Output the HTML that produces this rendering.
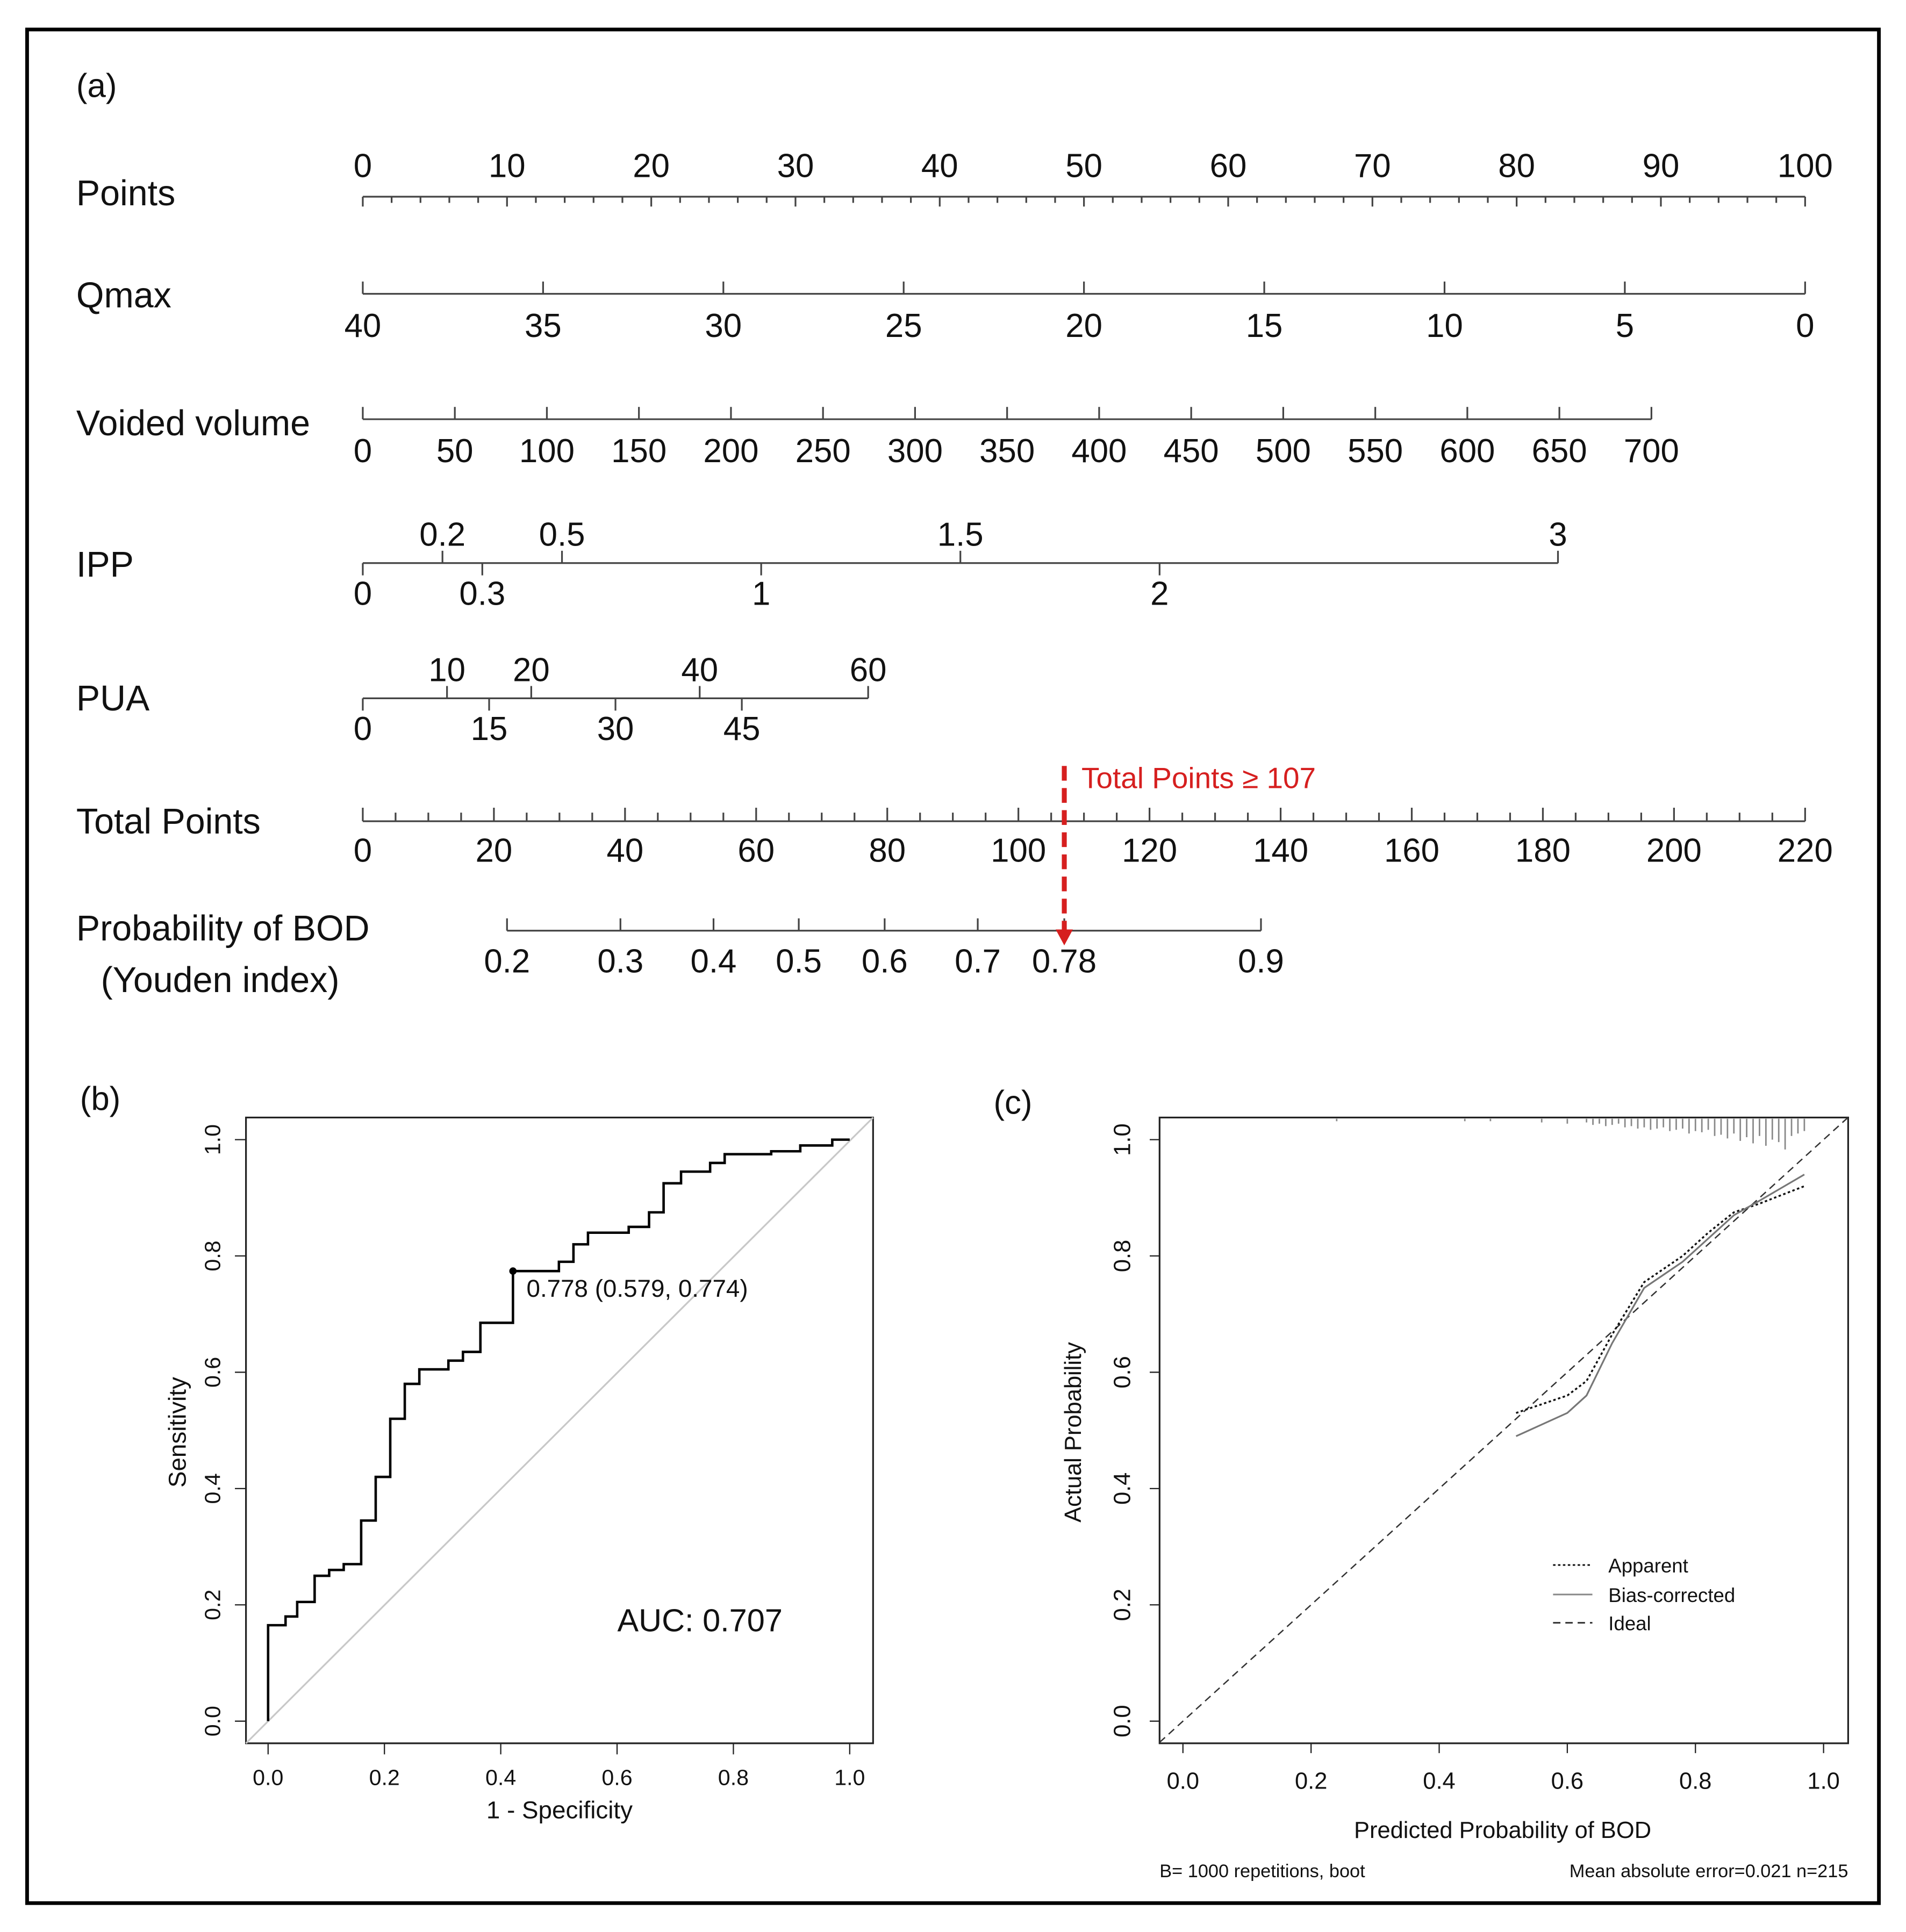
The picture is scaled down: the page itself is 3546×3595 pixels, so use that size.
<!DOCTYPE html>
<html><head><meta charset="utf-8"><style>
html,body{margin:0;padding:0;background:#fff}
svg{display:block}
text{font-family:"Liberation Sans",Arial,sans-serif;fill:#111}
</style></head><body>
<svg id="fig" width="3546" height="3595" viewBox="0 0 1550 1571.5" xmlns="http://www.w3.org/2000/svg">
<rect x="22" y="24" width="1506" height="1524" fill="none" stroke="#000" stroke-width="3"/>
<g id="nomo"></g>
<g id="roc"></g>
<g id="cal"></g>
</svg>
<script>
const NS="http://www.w3.org/2000/svg";
function mk(p,tag,a,txt){const e=document.createElementNS(NS,tag);for(const k in a)e.setAttribute(k,a[k]);if(txt!==undefined)e.textContent=txt;p.appendChild(e);return e;}
// ---------- Nomogram data ----------
const pointsTicks=[0,10,20,30,40,50,60,70,80,90,100];
const qmaxTicks=[40,35,30,25,20,15,10,5,0];
const volTicks=[0,50,100,150,200,250,300,350,400,450,500,550,600,650,700];
const ippUpper=[0.2,0.5,1.5,3];
const ippLower=[0,0.3,1,2];
const puaUpper=[10,20,40,60];
const puaLower=[0,15,30,45];
const totalTicks=[0,20,40,60,80,100,120,140,160,180,200,220];
const probTicks=[0.2,0.3,0.4,0.5,0.6,0.7,0.78,0.9];
const probTotals=[22,39.3,53.5,66.5,79.6,93.8,107,137];
const cutoffTotal=107;
// ---------- ROC data ----------
const rocFpr=[0,0,0.03,0.03,0.05,0.05,0.08,0.08,0.105,0.105,0.13,0.13,0.16,0.16,0.185,0.185,0.21,0.21,0.235,0.235,0.26,0.26,0.31,0.31,0.335,0.335,0.365,0.365,0.421,0.421,0.5,0.5,0.525,0.525,0.55,0.55,0.62,0.62,0.655,0.655,0.68,0.68,0.71,0.71,0.76,0.76,0.785,0.785,0.865,0.865,0.915,0.915,0.97,0.97,1.0];
const rocTpr=[0,0.165,0.165,0.18,0.18,0.205,0.205,0.25,0.25,0.26,0.26,0.27,0.27,0.345,0.345,0.42,0.42,0.52,0.52,0.58,0.58,0.605,0.605,0.62,0.62,0.635,0.635,0.685,0.685,0.774,0.774,0.79,0.79,0.82,0.82,0.84,0.84,0.85,0.85,0.875,0.875,0.925,0.925,0.945,0.945,0.96,0.96,0.975,0.975,0.98,0.98,0.99,0.99,1.0,1.0];
const rocCut=[0.421,0.774];
const axisTicks=[0,0.2,0.4,0.6,0.8,1.0];
// ---------- Calibration data ----------
const calX=[0.52,0.56,0.6,0.63,0.67,0.72,0.78,0.82,0.86,0.9,0.97];
const apparentY=[0.53,0.545,0.56,0.585,0.665,0.755,0.8,0.84,0.875,0.89,0.92];
const biasY=[0.49,0.51,0.53,0.56,0.65,0.745,0.79,0.83,0.87,0.895,0.94];
const rugX=[0.24,0.44,0.48,0.56,0.6,0.63,0.64,0.65,0.66,0.67,0.68,0.69,0.7,0.71,0.72,0.73,0.74,0.75,0.76,0.77,0.78,0.79,0.8,0.81,0.82,0.83,0.84,0.85,0.86,0.87,0.88,0.89,0.9,0.91,0.92,0.93,0.94,0.95,0.96,0.97];
const rugH=[2,2,2,3,4,3,5,4,6,5,4,7,6,8,7,9,8,7,10,9,8,12,10,11,9,14,13,16,12,18,15,20,14,22,17,19,25,14,12,10];

// ---------- Nomogram drawing ----------
const N=document.getElementById('nomo');
const FS=27;
const px=v=>295+v*11.73;
function lbl(t,x,y,name,anchor){const e=mk(N,'text',{x:x,y:y,'font-size':FS,'text-anchor':anchor||'middle'},t);return e;}
function line(x1,y1,x2,y2,name,w){const e=mk(N,'line',{x1:x1,y1:y1,x2:x2,y2:y2,stroke:'#444','stroke-width':w||1.4});return e;}
mk(N,'text',{x:62,y:79,'font-size':FS,},'(a)');
[['Points',62,167],['Qmax',62,250],['Voided volume',62,354],['IPP',62,469],['PUA',62,578],['Total Points',62,678],['Probability of BOD',62,765],['(Youden index)',82,807]].forEach(r=>{
  const e=mk(N,'text',{x:r[1],y:r[2],'font-size':29},r[0]);
  
});
line(px(0),160,px(100),160,'points-axis');
for(let v=0;v<=100;v+=2){line(px(v),160,px(v),v%10===0?168:165,'points-tick');}
pointsTicks.forEach(v=>lbl(String(v),px(v),144,'points-tick-label'));
const qx=v=>px((40-v)*2.5);
line(qx(40),239,qx(0),239,'qmax-axis');
qmaxTicks.forEach(v=>{line(qx(v),229,qx(v),239,'qmax-tick');lbl(String(v),qx(v),274,'qmax-tick-label');});
const vx=v=>295+v*(1343-295)/700;
line(vx(0),341,vx(700),341,'volume-axis');
volTicks.forEach(v=>{line(vx(v),331,vx(v),341,'volume-tick');lbl(String(v),vx(v),376,'volume-tick-label');});
const ix=v=>295+v*(1267-295)/3;
line(ix(0),458,ix(3),458,'ipp-axis');
ippUpper.forEach(v=>{line(ix(v),448,ix(v),458,'ipp-tick');lbl(String(v),ix(v),444,'ipp-tick-label');});
ippLower.forEach(v=>{line(ix(v),458,ix(v),468,'ipp-tick');lbl(String(v),ix(v),492,'ipp-tick-label');});
const ux=v=>295+v*(706-295)/60;
line(ux(0),568,ux(60),568,'pua-axis');
puaUpper.forEach(v=>{line(ux(v),558,ux(v),568,'pua-tick');lbl(String(v),ux(v),554,'pua-tick-label');});
puaLower.forEach(v=>{line(ux(v),568,ux(v),578,'pua-tick');lbl(String(v),ux(v),602,'pua-tick-label');});
const tx=v=>295+v*(1468-295)/220;
line(tx(0),668,tx(220),668,'total-points-axis');
for(let v=0;v<=220;v+=5){line(tx(v),v%20===0?657:661,tx(v),668,'total-points-tick');}
totalTicks.forEach(v=>lbl(String(v),tx(v),701,'total-points-tick-label'));
line(tx(probTotals[0]),757,tx(probTotals[probTotals.length-1]),757,'probability-axis');
probTicks.forEach((v,i)=>{line(tx(probTotals[i]),747,tx(probTotals[i]),757,'probability-tick');lbl(String(v),tx(probTotals[i]),791,'probability-tick-label');});
const cx=tx(cutoffTotal);
const rl=mk(N,'line',{x1:cx,y1:623,x2:cx,y2:756,stroke:'#d61f1f','stroke-width':4,'stroke-dasharray':'12,6'});

const ar=mk(N,'polygon',{points:`${cx-7},756 ${cx+7},756 ${cx},769`,fill:'#d61f1f'});

const ct=mk(N,'text',{x:cx+14,y:641,'font-size':24},'Total Points ≥ '+cutoffTotal);ct.style.fill='#d61f1f';


// ---------- ROC ----------
const R=document.getElementById('roc');
const rx=v=>218+v*473, ry=v=>1400-v*473;
mk(R,'text',{x:65,y:903,'font-size':FS,},'(b)');
mk(R,'rect',{x:200,y:909,width:510,height:509,fill:'none',stroke:'#222','stroke-width':1.4,});
mk(R,'line',{x1:200,y1:1418,x2:710,y2:909,stroke:'#c8c8c8','stroke-width':1.4,});
mk(R,'line',{x1:rx(0),y1:1418,x2:rx(1),y2:1418,stroke:'#222','stroke-width':1.2,});
mk(R,'line',{x1:200,y1:ry(0),x2:200,y2:ry(1),stroke:'#222','stroke-width':1.2,});
axisTicks.forEach(v=>{
  mk(R,'line',{x1:rx(v),y1:1418,x2:rx(v),y2:1427,stroke:'#222',});
  mk(R,'text',{x:rx(v),y:1452,'font-size':18,'text-anchor':'middle',},v.toFixed(1));
  mk(R,'line',{x1:191,y1:ry(v),x2:200,y2:ry(v),stroke:'#222',});
  mk(R,'text',{x:0,y:0,'font-size':18,'text-anchor':'middle',transform:`translate(179,${ry(v)}) rotate(-90)`,},v.toFixed(1));
});
mk(R,'text',{x:455,y:1479,'font-size':20,'text-anchor':'middle',},'1 - Specificity');
mk(R,'text',{x:0,y:0,'font-size':20,'text-anchor':'middle',transform:'translate(151,1165) rotate(-90)',},'Sensitivity');
mk(R,'polyline',{points:rocFpr.map((f,i)=>rx(f)+','+ry(rocTpr[i])).join(' '),fill:'none',stroke:'#000','stroke-width':2,});
mk(R,'circle',{cx:rx(rocCut[0]),cy:ry(rocCut[1]),r:3,fill:'#000',});
mk(R,'text',{x:rx(rocCut[0])+11,y:ry(rocCut[1])+21,'font-size':20,},'0.778 (0.579, 0.774)');
mk(R,'text',{x:502,y:1327,'font-size':26,},'AUC: 0.707');

// ---------- Calibration ----------
const C=document.getElementById('cal');
const kx=v=>962+v*521, ky=v=>1400-v*473;
mk(C,'text',{x:808,y:906,'font-size':FS,},'(c)');
mk(C,'rect',{x:943,y:909,width:560,height:509,fill:'none',stroke:'#222','stroke-width':1.4,});
axisTicks.forEach(v=>{
  mk(C,'line',{x1:kx(v),y1:1418,x2:kx(v),y2:1426,stroke:'#222',});
  mk(C,'text',{x:kx(v),y:1455,'font-size':19,'text-anchor':'middle',},v.toFixed(1));
  mk(C,'line',{x1:935,y1:ky(v),x2:943,y2:ky(v),stroke:'#222',});
  mk(C,'text',{x:0,y:0,'font-size':19,'text-anchor':'middle',transform:`translate(919,${ky(v)}) rotate(-90)`,},v.toFixed(1));
});
mk(C,'text',{x:1222,y:1495,'font-size':19,'text-anchor':'middle',},'Predicted Probability of BOD');
mk(C,'text',{x:0,y:0,'font-size':19,'text-anchor':'middle',transform:'translate(879,1165) rotate(-90)',},'Actual Probability');
mk(C,'line',{x1:943,y1:ky((943-962)/521),x2:1503,y2:ky((1503-962)/521),stroke:'#333','stroke-width':1.1,'stroke-dasharray':'6,4',});
mk(C,'polyline',{points:calX.map((x,i)=>kx(x)+','+ky(apparentY[i])).join(' '),fill:'none',stroke:'#111','stroke-width':1.5,'stroke-dasharray':'2,2',});
mk(C,'polyline',{points:calX.map((x,i)=>kx(x)+','+ky(biasY[i])).join(' '),fill:'none',stroke:'#777','stroke-width':1.4,});
rugX.forEach((x,i)=>{mk(C,'line',{x1:kx(x),y1:910,x2:kx(x),y2:910+rugH[i],stroke:'#888','stroke-width':1.2,});});
[['Apparent','2,2','#111',1273],['Bias-corrected',null,'#888',1297],['Ideal','6,4','#333',1320]].forEach(r=>{
  const a={x1:1263,y1:r[3],x2:1295,y2:r[3],stroke:r[2],'stroke-width':1.3};if(r[1])a['stroke-dasharray']=r[1];
  const l=mk(C,'line',a);
  const t=mk(C,'text',{x:1308,y:r[3]+6,'font-size':16},r[0]);
});
mk(C,'text',{x:943,y:1527,'font-size':15,},'B= 1000 repetitions, boot');
mk(C,'text',{x:1503,y:1527,'font-size':15,'text-anchor':'end',},'Mean absolute error=0.021 n=215');
</script>
</body></html>
